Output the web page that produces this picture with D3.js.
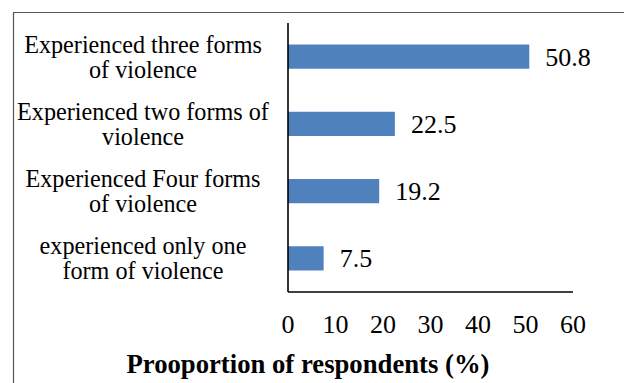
<!DOCTYPE html>
<html>
<head>
<meta charset="utf-8">
<script src="https://cdnjs.cloudflare.com/ajax/libs/d3/7.8.5/d3.min.js"></script>
<style>
  body { margin: 0; background: #fff; }
  text { font-family: "Liberation Serif", "Times New Roman", serif; fill: #000; }
</style>
</head>
<body>
<div id="chart"></div>
<script>
// categories (top to bottom) with wrapped label lines
var categories = [
  ["Experienced three forms", "of violence"],
  ["Experienced two forms of", "violence"],
  ["Experienced Four forms", "of violence"],
  ["experienced only one", "form of violence"]
];
var values = [50.8, 22.5, 19.2, 7.5];
var xTicks = [0, 10, 20, 30, 40, 50, 60];
var xTitle = "Prooportion of respondents (%)";

var width = 624, height = 383;
var svg = d3.select("#chart").append("svg")
  .attr("width", width)
  .attr("height", height);

// outer frame (only top and left edges visible)
svg.append("path")
  .attr("d", "M13.5,383 V12.5 H624")
  .attr("fill", "none")
  .attr("stroke", "#555")
  .attr("stroke-width", 1.2);

var x = d3.scaleLinear().domain([0, 60]).range([288, 573]);
var y = d3.scaleBand()
  .domain(d3.range(values.length))
  .range([23, 292])
  .paddingInner(0.64)
  .paddingOuter(0.32);

// bars
svg.selectAll("rect.bar")
  .data(values)
  .enter()
  .append("rect")
  .attr("class", "bar")
  .attr("x", x(0))
  .attr("y", function (d, i) { return y(i); })
  .attr("width", function (d) { return x(d) - x(0); })
  .attr("height", y.bandwidth())
  .attr("fill", "#4f81bd");

// value labels
svg.selectAll("text.val")
  .data(values)
  .enter()
  .append("text")
  .attr("class", "val")
  .attr("x", function (d) { return x(d) + 16; })
  .attr("y", function (d, i) { return y(i) + y.bandwidth() / 2; })
  .attr("dy", "0.35em")
  .style("font-size", "26px")
  .text(function (d) { return d.toFixed(1); });

// category labels, two lines each
var cat = svg.selectAll("text.cat")
  .data(categories)
  .enter()
  .append("text")
  .attr("class", "cat")
  .attr("text-anchor", "middle")
  .style("font-size", "24.2px")
  .attr("y", function (d, i) { return y(i) + y.bandwidth() / 2; });

cat.selectAll("tspan")
  .data(function (d) { return d; })
  .enter()
  .append("tspan")
  .attr("x", 143)
  .attr("dy", function (d, i) { return i === 0 ? -4 : 25; })
  .text(function (d) { return d; });

// axes lines
svg.append("line")
  .attr("x1", x(0)).attr("x2", x(0))
  .attr("y1", 23).attr("y2", 292)
  .attr("stroke", "#000").attr("stroke-width", 1.6);
svg.append("line")
  .attr("x1", x(0)).attr("x2", x(60))
  .attr("y1", 292).attr("y2", 292)
  .attr("stroke", "#000").attr("stroke-width", 1.6);

// x tick labels
svg.selectAll("text.tick")
  .data(xTicks)
  .enter()
  .append("text")
  .attr("class", "tick")
  .attr("x", function (d) { return x(d); })
  .attr("y", 333)
  .attr("text-anchor", "middle")
  .style("font-size", "26px")
  .text(function (d) { return d; });

// x title
svg.append("text")
  .attr("x", 308)
  .attr("y", 373)
  .attr("text-anchor", "middle")
  .style("font-size", "26.7px")
  .style("font-weight", "bold")
  .text(xTitle);
</script>
</body>
</html>
